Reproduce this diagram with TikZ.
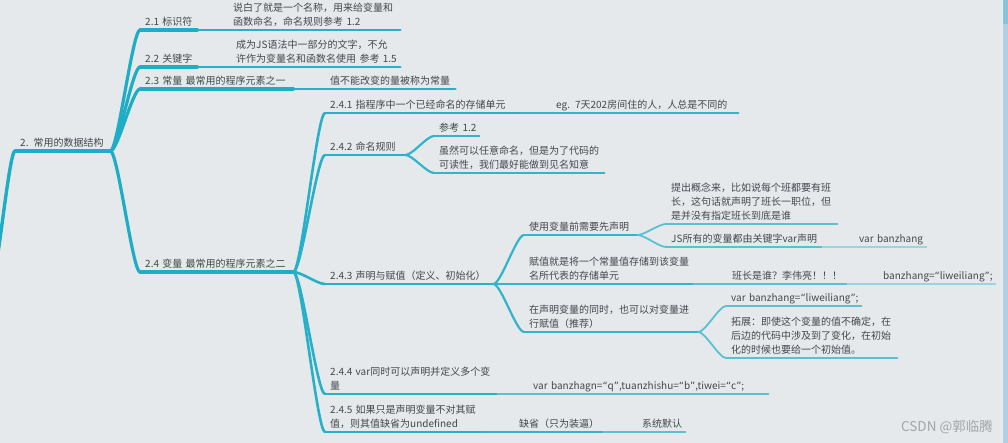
\documentclass[tikz,border=0pt]{standalone}
\usepackage{fontspec}
\newfontfamily\cjk{Noto Sans CJK SC}
\newfontfamily\qfont{DejaVu Sans}
\newcommand\qo{{\qfont “}}
\newcommand\qc{{\qfont ”}}
\usetikzlibrary{calc}
\definecolor{bg}{HTML}{E6E9EC}
\definecolor{txt}{HTML}{43474C}
\definecolor{c1}{HTML}{1FADC5}
\definecolor{c2}{HTML}{27B0C7}
\definecolor{c3}{HTML}{33B4CA}
\definecolor{c4}{HTML}{5CC0D3}
\definecolor{c5}{HTML}{9AD4E1}
\definecolor{wmc}{HTML}{A3A6A9}
\definecolor{sbar}{HTML}{B3CDE2}
\newcommand\mmlink[3]{\draw[#1] let \p1=(#2), \p2=(#3), \n1={0.25*(\x2-\x1)} in (\p1) .. controls +(\n1,0) and +(-\n1,0) .. (\p2);}
\newcommand\ul[2]{\draw[#1] (#2.south west) -- (#2.south east);}
\begin{document}
\begin{tikzpicture}[x=1pt,y=-1pt,
  topic/.style={anchor=south west, inner xsep=5pt, inner ysep=2pt, text depth=2pt,
    align=left, text=txt, font=\cjk\fontsize{10pt}{14pt}\selectfont},
  two/.style={text depth=16pt},
  three/.style={text depth=30pt},
  l1/.style={draw=c1, line width=3.2pt, line cap=round},
  l2/.style={draw=c2, line width=2.6pt, line cap=round},
  l3/.style={draw=c3, line width=2.2pt, line cap=round},
  l4/.style={draw=c4, line width=1.8pt, line cap=round},
  l5/.style={draw=c5, line width=1.6pt, line cap=round}]
\useasboundingbox (0,0) rectangle (1008,443);
\fill[bg] (0,0) rectangle (1008,443);
\begin{scope}
\clip (0,0) rectangle (1002,443);
% root
\coordinate (P) at (-10,290);
\node[topic, text width=85pt] (R) at (15,151) {\mbox{2. 常用的数据结构}};
% level 1
\node[topic, text width=47pt] (A) at (140,30) {\mbox{2.1 标识符}};
\node[topic, text width=47pt] (B) at (140,67) {\mbox{2.2 关键字}};
\node[topic, text width=143pt] (C) at (140,89) {\mbox{2.3 常量 最常用的程序元素之一}};
\node[topic, text width=143pt] (D) at (140,272) {\mbox{2.4 变量 最常用的程序元素之二}};
% level 2
\node[topic, two, text width=162pt] (A1) at (228,30) {\mbox{说白了就是一个名称，用来给变量和}\\\mbox{函数命名，命名规则参考 1.2}};
\node[topic, two, text width=159pt] (B1) at (231,67) {\mbox{成为JS语法中一部分的文字，不允}\\\mbox{许作为变量名和函数名使用 参考 1.5}};
\node[topic, text width=120pt] (C1) at (325,89) {\mbox{值不能改变的量被称为常量}};
\node[topic, text width=185pt] (D1) at (325,113) {\mbox{2.4.1 指程序中一个已经命名的存储单元}};
\node[topic, text width=70pt] (D2) at (325,155) {\mbox{2.4.2 命名规则}};
\node[topic, text width=158pt] (D3) at (325,284) {\mbox{2.4.3 声明与赋值（定义、初始化）}};
\node[topic, two, text width=162pt] (D4) at (325,394) {\mbox{2.4.4 var同时可以声明并定义多个变}\\\mbox{量}};
\node[topic, two, text width=147pt] (D5) at (325,432) {\mbox{2.4.5 如果只是声明变量不对其赋}\\\mbox{值，则其值缺省为undefined}};
% level 3
\node[topic, text width=177pt] (D1a) at (551,113) {\mbox{eg. 7天202房间住的人，人总是不同的}};
\node[topic, text width=35pt] (D2a) at (434,136) {\mbox{参考 1.2}};
\node[topic, two, text width=160pt] (D2b) at (434,173) {\mbox{虽然可以任意命名，但是为了代码的}\\\mbox{可读性，我们最好能做到见名知意}};
\node[topic, text width=103pt] (D3a) at (524,235) {\mbox{使用变量前需要先声明}};
\node[topic, two, text width=159pt] (D3b) at (524,284) {\mbox{赋值就是将一个常量值存储到该变量}\\\mbox{名所代表的存储单元}};
\node[topic, two, text width=164pt] (D3c) at (524,332) {\mbox{在声明变量的同时，也可以对变量进}\\\mbox{行赋值（推荐）}};
\node[topic, text width=230pt] (D4a) at (528,394) {\mbox{var banzhagn=\qo q\qc,tuanzhishu=\qo b\qc,tiwei=\qo c\qc;}};
\node[topic, text width=79pt] (D5a) at (514,432) {\mbox{缺省（只为装逼）}};
% level 4
\node[topic, three, text width=161pt] (D3a1) at (666,224) {\mbox{提出概念来，比如说每个班都要有班}\\\mbox{长，这句话就声明了班长一职位，但}\\\mbox{是并没有指定班长到底是谁}};
\node[topic, text width=146pt] (D3a2) at (666,247) {\mbox{JS所有的变量都由关键字var声明}};
\node[topic, text width=110pt] (D3b1) at (727,284) {\mbox{班长是谁？李伟亮！！！}};
\node[topic, text width=125pt] (D3c1) at (726,306) {\mbox{var banzhang=\qo liweiliang\qc;}};
\node[topic, three, text width=161pt] (D3c2) at (726,358) {\mbox{拓展：即使这个变量的值不确定，在}\\\mbox{后边的代码中涉及到了变化，在初始}\\\mbox{化的时候也要给一个初始值。}};
\node[topic, text width=38pt] (D5a1) at (637,432) {\mbox{系统默认}};
% level 5
\node[topic, text width=62pt] (D3a2a) at (854,247) {\mbox{var banzhang}};
\node[topic, text width=107pt] (D3b1a) at (878,284) {\mbox{banzhang=\qo liweiliang\qc;}};
% connectors and underlines
\mmlink{l1, line width=3.4pt}{P}{R.south west}
\ul{l1, line width=3.4pt}{R}
\foreach \nm in {A,B,C,D} {\mmlink{l1}{R.south east}{\nm.south west} \ul{l1}{\nm}}
\mmlink{l2}{A.south east}{A1.south west} \ul{l2}{A1}
\mmlink{l2}{B.south east}{B1.south west} \ul{l2}{B1}
\mmlink{l2}{C.south east}{C1.south west} \ul{l2}{C1}
\foreach \nm in {D1,D2,D3,D4,D5} {\mmlink{l2}{D.south east}{\nm.south west} \ul{l2}{\nm}}
\mmlink{l3}{D1.south east}{D1a.south west} \ul{l3}{D1a}
\mmlink{l3}{D2.south east}{D2a.south west} \ul{l3}{D2a}
\mmlink{l3}{D2.south east}{D2b.south west} \ul{l3}{D2b}
\foreach \nm in {D3a,D3b,D3c} {\mmlink{l3}{D3.south east}{\nm.south west} \ul{l3}{\nm}}
\mmlink{l4}{D3a.south east}{D3a1.south west} \ul{l4}{D3a1}
\mmlink{l4}{D3a.south east}{D3a2.south west} \ul{l4}{D3a2}
\mmlink{l5}{D3a2.south east}{D3a2a.south west} \ul{l5}{D3a2a}
\mmlink{l4}{D3b.south east}{D3b1.south west} \ul{l4}{D3b1}
\mmlink{l5}{D3b1.south east}{D3b1a.south west} \ul{l5}{D3b1a}
\mmlink{l4}{D3c.south east}{D3c1.south west} \ul{l4}{D3c1}
\mmlink{l4}{D3c.south east}{D3c2.south west} \ul{l4}{D3c2}
\mmlink{l4}{D4.south east}{D4a.south west} \ul{l4}{D4a}
\mmlink{l3}{D5.south east}{D5a.south west} \ul{l3}{D5a}
\mmlink{l4}{D5a.south east}{D5a1.south west} \ul{l4}{D5a1}
\end{scope}
% watermark
\node[anchor=base east, inner sep=0pt, text=wmc, font=\cjk\fontsize{13.5pt}{16pt}\selectfont] (wm) at (993,431) {CSDN @郭临腾};
% scrollbar
\fill[sbar] (1002,0) rectangle (1008,443);
\fill[c1!30!sbar] (1002,0) rectangle (1008,24);
\draw[white!70!sbar, line width=0.8pt] (1002.4,0) -- (1002.4,443);
\end{tikzpicture}
\end{document}
